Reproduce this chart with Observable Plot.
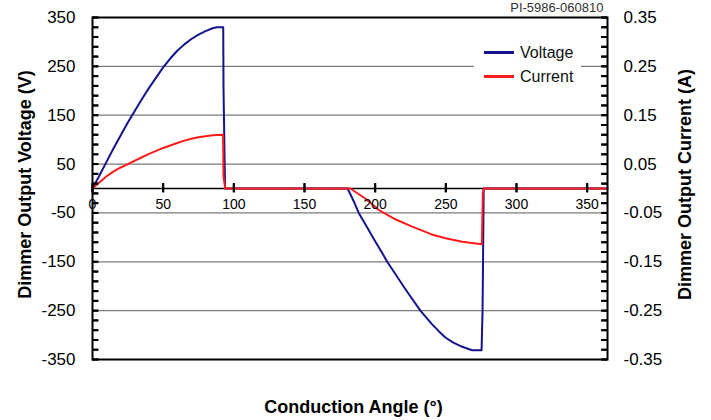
<!DOCTYPE html>
<html>
<head>
<meta charset="utf-8">
<script src="https://cdn.jsdelivr.net/npm/d3@7"></script>
<script src="https://cdn.jsdelivr.net/npm/@observablehq/plot@0.6"></script>
<style>
  html, body { margin: 0; padding: 0; background: white; }
  #wrap { position: relative; width: 711px; height: 420px; font-family: "Liberation Sans", Arial, Helvetica, sans-serif; }
  #legend { position: absolute; left: 474px; top: 40px; width: 107px; height: 50px; background: white; }
  .sw { position: absolute; height: 3px; width: 30px; }
  .lt { position: absolute; font-size: 16px; line-height: 18px; color: #111; }
</style>
</head>
<body>
<div id="wrap"></div>
<script>
// ---- data ----
const voltageAngle = [0,5,10,15,20,25,30,35,40,45,50,55,60,65,70,75,80,85,88,92.5,92.7,93.8,180.5,185,188.4,195,200,205,208.5,215,220,225,232,240,245,249.7,255,261.6,268.6,275.3,276.0,276.8,364.4];
const voltageValue = [0,27,55,83,109,135,159,183,206,227,248,266,282,295,306,315,322,328,330,330,205,0,0,-27,-50,-83,-108,-132,-150,-178,-200,-221,-250,-277,-292,-305,-315,-324,-331,-331,-250,0,0];

const currentAngle = [0,5,10,15,20,25,30,35,40,45,50,55,60,65,70,75,80,85,92.4,92.7,93.9,182.5,193.2,202.6,206.1,215,226.2,240,249.8,261.6,275.5,276.2,277,364.4];
const currentValue = [0,0.013,0.025,0.035,0.043,0.050,0.057,0.064,0.071,0.077,0.083,0.088,0.093,0.098,0.102,0.105,0.107,0.109,0.110,0.025,0,0,-0.021,-0.044,-0.050,-0.064,-0.078,-0.094,-0.102,-0.109,-0.114,-0.008,0,0];

const xMin = 0, xMax = 364.4;
const xTicks = [0,50,100,150,200,250,300,350];
const voltageTicks = [350,250,150,50,-50,-150,-250,-350];
const voltageLabels = ["350","250","150","50","-50","-150","-250","-350"];
const currentLabels = ["0.35","0.25","0.15","0.05","-0.05","-0.15","-0.25","-0.35"];
const gridTicks = [250,150,50,-50,-150,-250];
const minorTicks = d3.range(350, -351, -20);

const ampsToVolts = 1000; // right axis 0.35 A aligns with left axis 350 V

const voltage = voltageAngle.map((a, i) => ({angle: a, v: voltageValue[i]}));
const current = currentAngle.map((a, i) => ({angle: a, v: currentValue[i] * ampsToVolts}));

const BLUE = "#14148c";
const RED = "#ff1a1a";
const font = "'Liberation Sans', Arial, Helvetica, sans-serif";

// small tick glyphs used as dot symbols
const tickRight = {draw(ctx) { ctx.moveTo(0, 0); ctx.lineTo(6, 0); }};
const tickLeft = {draw(ctx) { ctx.moveTo(0, 0); ctx.lineTo(-6, 0); }};
const tickVert = {draw(ctx) { ctx.moveTo(0, -5); ctx.lineTo(0, 4); }};

function build(withDots) {
  const extra = withDots ? [
    Plot.dot(minorTicks, {x: xMin, y: d => d, symbol: tickRight, stroke: "black", strokeWidth: 2, fill: "none"}),
    Plot.dot(minorTicks, {x: xMax, y: d => d, symbol: tickLeft, stroke: "black", strokeWidth: 2, fill: "none"}),
    Plot.dot(xTicks, {x: d => d, y: 0, symbol: tickVert, stroke: "black", strokeWidth: 2, fill: "none"})
  ] : [];
  return Plot.plot({
    width: 711,
    height: 420,
    marginLeft: 92,
    marginRight: 104,
    marginTop: 17,
    marginBottom: 61,
    style: {fontFamily: font, background: "white", color: "black"},
    x: {domain: [xMin, xMax]},
    y: {domain: [-350, 350]},
    marks: [
      Plot.gridY(gridTicks, {stroke: "#7a7a7a", strokeOpacity: 1, strokeWidth: 1.2}),
      Plot.ruleY([0], {stroke: "black", strokeWidth: 1.5}),
      Plot.line(voltage, {x: "angle", y: "v", stroke: BLUE, strokeWidth: 2}),
      Plot.line(current, {x: "angle", y: "v", stroke: RED, strokeWidth: 2}),
      Plot.axisY({anchor: "left", ticks: voltageTicks, tickSize: 0, tickPadding: 17, fontSize: 17, label: null,
        tickFormat: d => voltageLabels[voltageTicks.indexOf(d)]}),
      Plot.axisY({anchor: "right", ticks: voltageTicks, tickSize: 0, tickPadding: 16, fontSize: 17, label: null,
        tickFormat: d => currentLabels[voltageTicks.indexOf(d)]}),
      // inward minor ticks on the left and right frame edges
      Plot.ruleY(minorTicks, {x1: xMin, x2: xMin, insetLeft: 0, insetRight: -6, stroke: "black", strokeWidth: 2}),
      Plot.ruleY(minorTicks, {x1: xMax, x2: xMax, insetLeft: -6, insetRight: 0, stroke: "black", strokeWidth: 2}),
      // x ticks crossing the zero line
      Plot.ruleX(xTicks, {y1: 0, y2: 0, insetTop: -5, insetBottom: -4, stroke: "black", strokeWidth: 2}),
      ...extra,
      Plot.axisX({anchor: "bottom", ticks: xTicks, tickSize: 0, tickPadding: 0, dy: -160, fontSize: 14, label: null,
        tickFormat: d => String(d)}),
      Plot.frame({stroke: "black", strokeWidth: 2}),
      Plot.text(["Dimmer Output Voltage (V)"], {frameAnchor: "left", textAnchor: "middle", lineAnchor: "middle", dx: -67, dy: -4, rotate: -90, fontSize: 18, fontWeight: "bold"}),
      Plot.text(["Dimmer Output Current (A)"], {frameAnchor: "right", textAnchor: "middle", lineAnchor: "middle", dx: 78, dy: -4, rotate: -90, fontSize: 18, fontWeight: "bold"}),
      Plot.text(["Conduction Angle (°)"], {frameAnchor: "bottom", textAnchor: "middle", lineAnchor: "middle", dx: 3.5, dy: 48, fontSize: 18, fontWeight: "bold"}),
      Plot.text(["PI-5986-060810"], {frameAnchor: "top-right", textAnchor: "end", lineAnchor: "middle", dx: -4, dy: -10, fontSize: 13, fill: "#333"})
    ]
  });
}

let chart;
try { chart = build(true); } catch (e) { chart = build(false); }

const wrap = document.getElementById("wrap");
wrap.appendChild(chart);

const legendItems = [
  {label: "Voltage", color: BLUE, y: 52.5},
  {label: "Current", color: RED, y: 76.5}
];
const legend = document.createElement("div");
legend.id = "legend";
wrap.appendChild(legend);
for (const it of legendItems) {
  const sw = document.createElement("div");
  sw.className = "sw";
  sw.style.background = it.color;
  sw.style.left = (484 - 474) + "px";
  sw.style.top = (it.y - 1.5 - 40) + "px";
  legend.appendChild(sw);
  const t = document.createElement("div");
  t.className = "lt";
  t.textContent = it.label;
  t.style.left = (520 - 474) + "px";
  t.style.top = (it.y - 9 - 40) + "px";
  legend.appendChild(t);
}
</script>
</body>
</html>
